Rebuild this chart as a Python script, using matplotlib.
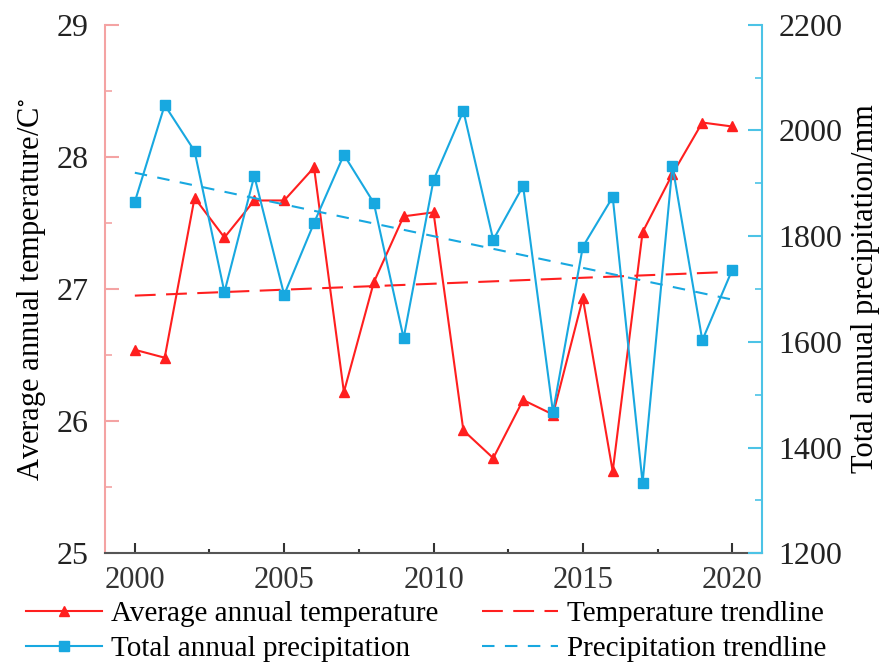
import matplotlib
matplotlib.use("Agg")
import matplotlib.pyplot as plt
from matplotlib.ticker import MultipleLocator

# data
years = list(range(2000, 2021))
temperature = [26.54, 26.48, 27.69, 27.39, 27.67, 27.67, 27.92, 26.22, 27.05, 27.55, 27.58,
               25.93, 25.72, 26.16, 26.05, 26.93, 25.62, 27.43, 27.87, 28.26, 28.23]
precipitation = [1865, 2048, 1961, 1694, 1914, 1689, 1825, 1954, 1863, 1607, 1906,
                 2037, 1793, 1895, 1467, 1780, 1874, 1333, 1933, 1603, 1736]
trend_years = [2000, 2020]
temp_trend = [26.95, 27.13]
precip_trend = [1920, 1680]

RED = "#ff1f1f"
BLUE = "#18a8e0"

plt.rcParams["font.family"] = ["Liberation Serif", "DejaVu Serif"]
plt.rcParams["mathtext.fontset"] = "stix"

fig = plt.figure(figsize=(8.82, 6.69), dpi=100)
ax = fig.add_axes([0.119, 0.173, 0.745, 0.79])
ax2 = ax.twinx()

l1, = ax.plot(years, temperature, color=RED, marker="^", markersize=7.5, linewidth=1.5,
              label="Average annual temperature")
l3, = ax.plot(trend_years, temp_trend, color=RED, linestyle=(0, (10, 5)), linewidth=1.5,
              label="Temperature trendline")
l2, = ax2.plot(years, precipitation, color=BLUE, marker="s", markersize=7, linewidth=1.5,
               label="Total annual precipitation")
l4, = ax2.plot(trend_years, precip_trend, color=BLUE, linestyle=(0, (6, 5)), linewidth=1.5,
               label="Precipitation trendline")

ax.set_xlim(1999, 2021)
ax.set_ylim(25, 29)
ax2.set_ylim(1200, 2200)
ax.xaxis.set_major_locator(MultipleLocator(5))
ax.xaxis.set_minor_locator(MultipleLocator(2.5))
ax.yaxis.set_major_locator(MultipleLocator(1))
ax.yaxis.set_minor_locator(MultipleLocator(0.5))
ax2.yaxis.set_major_locator(MultipleLocator(200))
ax2.yaxis.set_minor_locator(MultipleLocator(100))

for a in (ax, ax2):
    a.spines["top"].set_visible(False)
ax.spines["right"].set_visible(False)
ax2.spines["left"].set_visible(False)
ax2.spines["bottom"].set_visible(False)
ax.spines["left"].set_color("#f4a3a3")
ax.spines["left"].set_linewidth(1.5)
ax2.spines["right"].set_color("#4cc3e6")
ax2.spines["right"].set_linewidth(1.5)
ax.spines["bottom"].set_color("#555555")
ax.spines["bottom"].set_linewidth(1.5)

ax.tick_params(axis="x", which="both", direction="in", colors="#333333", labelsize=22,
               pad=9)
ax.tick_params(axis="x", which="major", length=7, width=1.5)
ax.tick_params(axis="x", which="minor", length=3, width=1.5)
ax.tick_params(axis="y", which="both", direction="in", color="#f4a3a3", labelcolor="#222222",
               labelsize=23, pad=12)
ax.tick_params(axis="y", which="major", length=10, width=1.5)
ax.tick_params(axis="y", which="minor", length=5, width=1.2)
ax2.tick_params(axis="y", which="both", direction="in", color="#4cc3e6", labelcolor="#222222",
                labelsize=23, pad=12)
ax2.tick_params(axis="y", which="major", length=10, width=1.5)
ax2.tick_params(axis="y", which="minor", length=5, width=1.2)

ax.set_ylabel(r"Average annual temperature/C$^{\circ}$", fontsize=22, labelpad=6)
ax2.set_ylabel("Total annual precipitation/mm", fontsize=22, labelpad=6)

fig.legend(handles=[l1, l2, l3, l4], ncol=2, frameon=False, fontsize=21,
           loc="lower left", bbox_to_anchor=(0.01, -0.016), borderpad=0.1,
           handlelength=2.6, handletextpad=0.3, columnspacing=1.5, labelspacing=0.3)

fig.savefig("out.png", dpi=100)
